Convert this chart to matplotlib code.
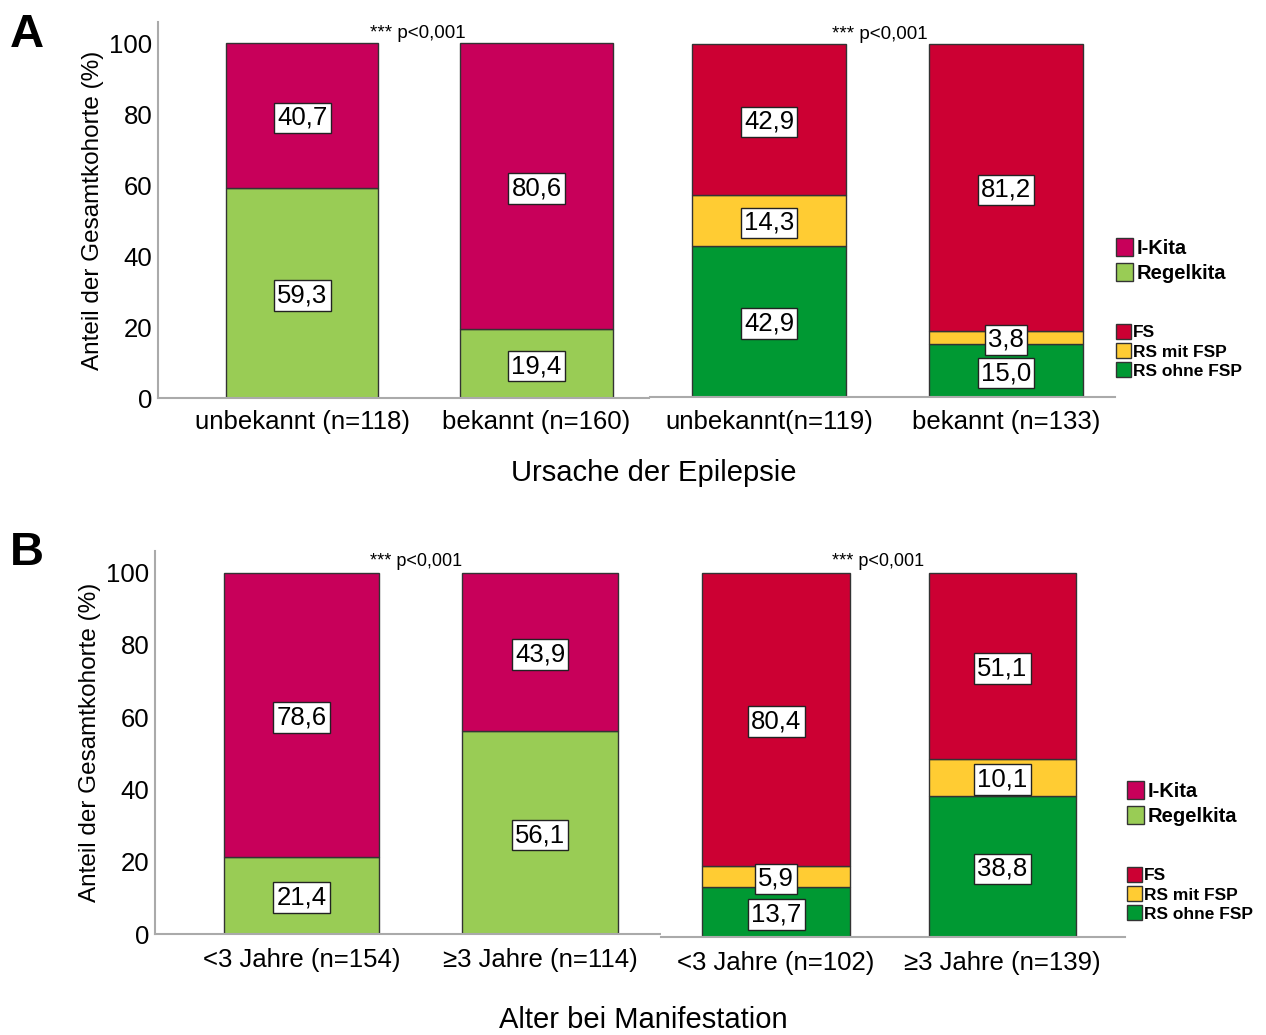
import numpy as np
import matplotlib
matplotlib.use('Agg')
import matplotlib.pyplot as plt
from matplotlib.patches import Patch

plt.rcParams['font.family'] = ['Liberation Sans', 'DejaVu Sans']

# --- data ---
cat_a_kita = ['unbekannt (n=118)', 'bekannt (n=160)']
regel_a = [59.3, 19.4]
ikita_a = [40.7, 80.6]

cat_a_rs = ['unbekannt(n=119)', 'bekannt (n=133)']
rs_ohne_a = [42.9, 15.0]
rs_mit_a = [14.3, 3.8]
fs_a = [42.9, 81.2]

cat_b_kita = ['<3 Jahre (n=154)', '≥3 Jahre (n=114)']
regel_b = [21.4, 56.1]
ikita_b = [78.6, 43.9]

cat_b_rs = ['<3 Jahre (n=102)', '≥3 Jahre (n=139)']
rs_ohne_b = [13.7, 38.8]
rs_mit_b = [5.9, 10.1]
fs_b = [80.4, 51.1]

C_IKITA = '#C8005A'
C_REGEL = '#99CC55'
C_FS = '#CC0033'
C_RSMIT = '#FFCC33'
C_RSOHNE = '#009933'
EDGE = '#333333'
AXC = '#AAAAAA'

W, H = 1266, 1035
fig = plt.figure(figsize=(W/100, H/100), dpi=100)

def px_axes(l, t, r, b):
    return fig.add_axes([l/W, 1-b/H, (r-l)/W, (b-t)/H])

def fmt(v):
    return f'{v:.1f}'.replace('.', ',')

def stacked(ax, cats, series, colors, xlim, show_y, xpad):
    x = np.arange(len(cats))
    bottom = np.zeros(len(cats))
    for vals, c in zip(series, colors):
        vals = np.array(vals)
        ax.bar(x, vals, 0.65, bottom=bottom, color=c, edgecolor=EDGE, linewidth=1.0, zorder=2)
        for xi, b, v in zip(x, bottom, vals):
            ax.text(xi, b + v/2, fmt(v), ha='center', va='center_baseline', fontsize=18.5, zorder=4,
                    bbox=dict(boxstyle='square,pad=0.13', fc='white', ec='#222222', lw=1.0))
        bottom += vals
    ax.set_xlim(*xlim)
    ax.set_ylim(0, 106)
    ax.set_xticks(x)
    ax.set_xticklabels(cats, fontsize=18.5)
    ax.tick_params(axis='x', length=0, pad=xpad)
    for s in ['top', 'right']:
        ax.spines[s].set_visible(False)
    ax.spines['bottom'].set_color(AXC)
    ax.spines['bottom'].set_linewidth(1.5)
    if show_y:
        ax.spines['left'].set_color(AXC)
        ax.spines['left'].set_linewidth(1.5)
        ax.set_yticks([0, 20, 40, 60, 80, 100])
        ax.tick_params(axis='y', length=0, labelsize=18.5, pad=4)
        ax.set_ylabel('Anteil der Gesamtkohorte (%)', fontsize=17.5, labelpad=4)
    else:
        ax.spines['left'].set_visible(False)
        ax.set_yticks([])

# ---- Panel A ----
axA1 = px_axes(158, 22, 649, 398)
stacked(axA1, cat_a_kita, [regel_a, ikita_a], [C_REGEL, C_IKITA], (-0.615, 1.48), True, 9)
axA2 = px_axes(650, 23, 1115, 397)
stacked(axA2, cat_a_rs, [rs_ohne_a, rs_mit_a, fs_a], [C_RSOHNE, C_RSMIT, C_FS], (-0.502, 1.46), False, 9)

# ---- Panel B ----
axB1 = px_axes(155, 551, 660, 934)
stacked(axB1, cat_b_kita, [regel_b, ikita_b], [C_REGEL, C_IKITA], (-0.614, 1.503), True, 10)
axB2 = px_axes(661, 551, 1125, 937)
stacked(axB2, cat_b_rs, [rs_ohne_b, rs_mit_b, fs_b], [C_RSOHNE, C_RSMIT, C_FS], (-0.508, 1.541), False, 10)

# p-values
fig.text(370/W, 1-33/H, '*** p<0,001', fontsize=13.5, va='center', ha='left')
fig.text(832/W, 1-34/H, '*** p<0,001', fontsize=13.5, va='center', ha='left')
fig.text(370/W, 1-561/H, '*** p<0,001', fontsize=13, va='center', ha='left')
fig.text(832/W, 1-562/H, '*** p<0,001', fontsize=13, va='center', ha='left')

# axis titles
fig.text(654/W, 1-473/H, 'Ursache der Epilepsie', fontsize=21, ha='center', va='center')
fig.text(643/W, 1-1020/H, 'Alter bei Manifestation', fontsize=21, ha='center', va='center')

# panel letters
fig.text(27/W, 1-35/H, 'A', fontsize=34, fontweight='bold', ha='center', va='center')
fig.text(27/W, 1-553/H, 'B', fontsize=34, fontweight='bold', ha='center', va='center')

# legends
def add_legends(x, y1, y2):
    h1 = [Patch(fc=C_IKITA, ec=EDGE, label='I-Kita'), Patch(fc=C_REGEL, ec=EDGE, label='Regelkita')]
    h2 = [Patch(fc=C_FS, ec=EDGE, label='FS'), Patch(fc=C_RSMIT, ec=EDGE, label='RS mit FSP'),
          Patch(fc=C_RSOHNE, ec=EDGE, label='RS ohne FSP')]
    l1 = fig.legend(handles=h1, loc='upper left', bbox_to_anchor=(x/W, 1-y1/H), frameon=False,
                    fontsize=14.5, handlelength=0.85, handleheight=1.0, handletextpad=0.15,
                    labelspacing=0.25, borderaxespad=0, borderpad=0)
    l2 = fig.legend(handles=h2, loc='upper left', bbox_to_anchor=(x/W, 1-y2/H), frameon=False,
                    fontsize=12.5, handlelength=0.85, handleheight=0.95, handletextpad=0.15,
                    labelspacing=0.15, borderaxespad=0, borderpad=0)
    for t in l1.get_texts() + l2.get_texts():
        t.set_fontweight('bold')

add_legends(1116, 238, 324)
add_legends(1127, 781, 867)

fig.savefig('out.png', dpi=100)
